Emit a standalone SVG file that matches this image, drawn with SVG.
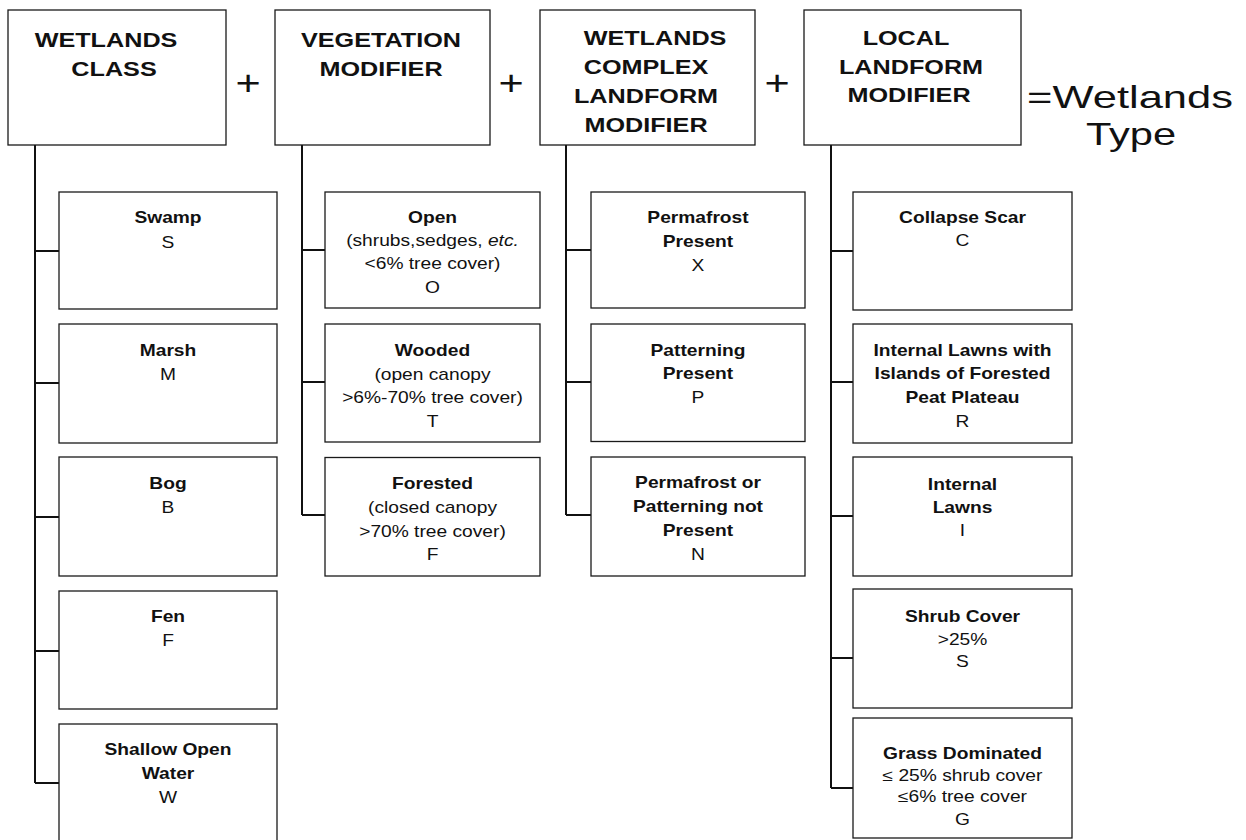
<svg xmlns="http://www.w3.org/2000/svg" width="1246" height="840" viewBox="0 0 1246 840">
<style>
.box{fill:#fff;stroke:#1a1a1a;stroke-width:1.3}
.conn{stroke:#111;stroke-width:2;fill:none}
text{font-family:"Liberation Sans",Arial,sans-serif;fill:#111;text-anchor:middle}
.h{font-size:21px;font-weight:bold}
.b{font-size:16px;font-weight:bold}
.r{font-size:16px}
.plus{font-size:36px}
.big{font-size:32px}
</style>
<rect width="1246" height="840" fill="#fff"/>
<g id="connectors" class="conn">
<path d="M35 145V783M35 251H59M35 383H59M35 517H59M35 651H59M35 783H59"/>
<path d="M302 145V515M302 250H325M302 382H325M302 515H325"/>
<path d="M566 145V515M566 250H591M566 382H591M566 515H591"/>
<path d="M831 145V788M831 251H853M831 382H853M831 516H853M831 658H853M831 788H853"/>
</g>
<g id="hdr-class"><rect class="box" x="8" y="10" width="218" height="135"/>
<text class="h" transform="translate(106 0) scale(1.2 1)" y="47">WETLANDS</text>
<text class="h" transform="translate(114 0) scale(1.2 1)" y="76.5">CLASS</text></g>
<g id="hdr-veg"><rect class="box" x="275" y="10" width="215" height="135"/>
<text class="h" transform="translate(381 0) scale(1.2 1)" y="47">VEGETATION</text>
<text class="h" transform="translate(381 0) scale(1.2 1)" y="76.5">MODIFIER</text></g>
<g id="hdr-complex"><rect class="box" x="540" y="10" width="215" height="135"/>
<text class="h" transform="translate(655 0) scale(1.2 1)" y="45">WETLANDS</text>
<text class="h" transform="translate(646 0) scale(1.2 1)" y="74">COMPLEX</text>
<text class="h" transform="translate(646 0) scale(1.2 1)" y="103">LANDFORM</text>
<text class="h" transform="translate(646 0) scale(1.2 1)" y="132">MODIFIER</text></g>
<g id="hdr-local"><rect class="box" x="804" y="10" width="217" height="135"/>
<text class="h" transform="translate(906 0) scale(1.2 1)" y="45">LOCAL</text>
<text class="h" transform="translate(911 0) scale(1.2 1)" y="74">LANDFORM</text>
<text class="h" transform="translate(909 0) scale(1.2 1)" y="102">MODIFIER</text></g>
<g id="ops">
<text class="plus" transform="translate(248 0) scale(1.2 1)" y="95">+</text>
<text class="plus" transform="translate(511 0) scale(1.2 1)" y="95">+</text>
<text class="plus" transform="translate(777 0) scale(1.2 1)" y="95">+</text>
<text class="big" transform="translate(1027 0) scale(1.36 1)" y="108" style="text-anchor:start">=Wetlands</text>
<text class="big" transform="translate(1131 0) scale(1.3 1)" y="145">Type</text>
</g>
<g id="swamp"><rect class="box" x="59" y="192" width="218" height="117"/>
<text class="b" transform="translate(168 0) scale(1.2 1)" y="223">Swamp</text>
<text class="r" transform="translate(168 0) scale(1.2 1)" y="248">S</text></g>
<g id="marsh"><rect class="box" x="59" y="324" width="218" height="119"/>
<text class="b" transform="translate(168 0) scale(1.2 1)" y="356">Marsh</text>
<text class="r" transform="translate(168 0) scale(1.2 1)" y="380.5">M</text></g>
<g id="bog"><rect class="box" x="59" y="457" width="218" height="119"/>
<text class="b" transform="translate(168 0) scale(1.2 1)" y="489">Bog</text>
<text class="r" transform="translate(168 0) scale(1.2 1)" y="513">B</text></g>
<g id="fen"><rect class="box" x="59" y="591" width="218" height="118"/>
<text class="b" transform="translate(168 0) scale(1.2 1)" y="622.5">Fen</text>
<text class="r" transform="translate(168 0) scale(1.2 1)" y="646.5">F</text></g>
<g id="water"><rect class="box" x="59" y="724" width="218" height="122"/>
<text class="b" transform="translate(168 0) scale(1.2 1)" y="755">Shallow Open</text>
<text class="b" transform="translate(168 0) scale(1.2 1)" y="779.5">Water</text>
<text class="r" transform="translate(168 0) scale(1.2 1)" y="803.5">W</text></g>
<g id="open"><rect class="box" x="325" y="192" width="215" height="116"/>
<text class="b" transform="translate(432.5 0) scale(1.2 1)" y="222.7">Open</text>
<text class="r" transform="translate(432.5 0) scale(1.2 1)" y="246.5">(shrubs,sedges, <tspan font-style="italic">etc.</tspan></text>
<text class="r" transform="translate(432.5 0) scale(1.2 1)" y="269.5">&lt;6% tree cover)</text>
<text class="r" transform="translate(432.5 0) scale(1.2 1)" y="293">O</text></g>
<g id="wooded"><rect class="box" x="325" y="324" width="215" height="118"/>
<text class="b" transform="translate(432.5 0) scale(1.2 1)" y="356">Wooded</text>
<text class="r" transform="translate(432.5 0) scale(1.2 1)" y="380">(open canopy</text>
<text class="r" transform="translate(432.5 0) scale(1.2 1)" y="403">&gt;6%-70% tree cover)</text>
<text class="r" transform="translate(432.5 0) scale(1.2 1)" y="427">T</text></g>
<g id="forested"><rect class="box" x="325" y="457.5" width="215" height="118.5"/>
<text class="b" transform="translate(432.5 0) scale(1.2 1)" y="489.5">Forested</text>
<text class="r" transform="translate(432.5 0) scale(1.2 1)" y="513">(closed canopy</text>
<text class="r" transform="translate(432.5 0) scale(1.2 1)" y="537">&gt;70% tree cover)</text>
<text class="r" transform="translate(432.5 0) scale(1.2 1)" y="560.5">F</text></g>
<g id="permafrost"><rect class="box" x="591" y="192" width="214" height="116"/>
<text class="b" transform="translate(698 0) scale(1.2 1)" y="222.7">Permafrost</text>
<text class="b" transform="translate(698 0) scale(1.2 1)" y="246.7">Present</text>
<text class="r" transform="translate(698 0) scale(1.2 1)" y="271">X</text></g>
<g id="patterning"><rect class="box" x="591" y="324" width="214" height="117.5"/>
<text class="b" transform="translate(698 0) scale(1.2 1)" y="356">Patterning</text>
<text class="b" transform="translate(698 0) scale(1.2 1)" y="379.5">Present</text>
<text class="r" transform="translate(698 0) scale(1.2 1)" y="403.5">P</text></g>
<g id="neither"><rect class="box" x="591" y="457" width="214" height="119"/>
<text class="b" transform="translate(698 0) scale(1.2 1)" y="488.5">Permafrost or</text>
<text class="b" transform="translate(698 0) scale(1.2 1)" y="512">Patterning not</text>
<text class="b" transform="translate(698 0) scale(1.2 1)" y="536.5">Present</text>
<text class="r" transform="translate(698 0) scale(1.2 1)" y="560.5">N</text></g>
<g id="collapse"><rect class="box" x="853" y="192" width="219" height="118"/>
<text class="b" transform="translate(962.5 0) scale(1.2 1)" y="223">Collapse Scar</text>
<text class="r" transform="translate(962.5 0) scale(1.2 1)" y="246.5">C</text></g>
<g id="lawns-islands"><rect class="box" x="853" y="324" width="219" height="119"/>
<text class="b" transform="translate(962.5 0) scale(1.2 1)" y="356">Internal Lawns with</text>
<text class="b" transform="translate(962.5 0) scale(1.2 1)" y="379.5">Islands of Forested</text>
<text class="b" transform="translate(962.5 0) scale(1.2 1)" y="403">Peat Plateau</text>
<text class="r" transform="translate(962.5 0) scale(1.2 1)" y="427">R</text></g>
<g id="lawns"><rect class="box" x="853" y="457" width="219" height="119"/>
<text class="b" transform="translate(962.5 0) scale(1.2 1)" y="490">Internal</text>
<text class="b" transform="translate(962.5 0) scale(1.2 1)" y="513">Lawns</text>
<text class="r" transform="translate(962.5 0) scale(1.2 1)" y="536">I</text></g>
<g id="shrub"><rect class="box" x="853" y="589" width="219" height="119"/>
<text class="b" transform="translate(962.5 0) scale(1.2 1)" y="622">Shrub Cover</text>
<text class="r" transform="translate(962.5 0) scale(1.2 1)" y="645">&gt;25%</text>
<text class="r" transform="translate(962.5 0) scale(1.2 1)" y="667">S</text></g>
<g id="grass"><rect class="box" x="853" y="718" width="219" height="120"/>
<text class="b" transform="translate(962.5 0) scale(1.2 1)" y="759">Grass Dominated</text>
<text class="r" transform="translate(962.5 0) scale(1.2 1)" y="781">≤ 25% shrub cover</text>
<text class="r" transform="translate(962.5 0) scale(1.2 1)" y="802.5">≤6% tree cover</text>
<text class="r" transform="translate(962.5 0) scale(1.2 1)" y="825">G</text></g>
</svg>
